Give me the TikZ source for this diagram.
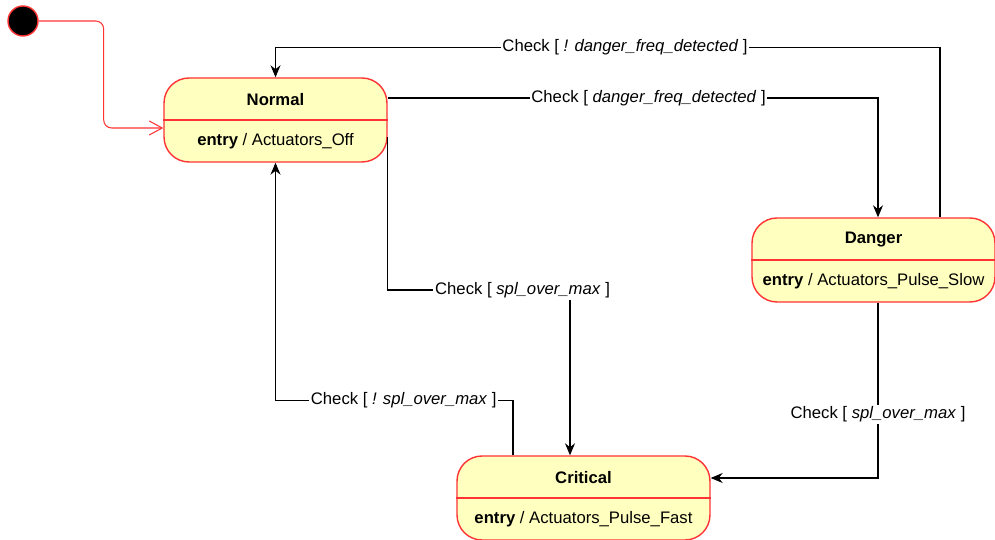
\documentclass[tikz,border=0pt]{standalone}
\usepackage{fontspec}
\setmainfont{Liberation Sans}
\usepackage{tikz}
\usetikzlibrary{arrows.meta, positioning}

\definecolor{statefill}{HTML}{FFFFC0}
\definecolor{stateline}{HTML}{FF3333}

\begin{document}
\begin{tikzpicture}[
    x=0.02cm, y=0.02cm,
    statebox/.style={rectangle, rounded corners=0.5cm, draw=stateline, line width=0.8pt, fill=statefill, minimum height=1.68cm, inner sep=0pt},
    startdot/.style={circle, draw=stateline, line width=0.8pt, fill=black, minimum size=0.6cm, inner sep=0pt},
    title/.style={font=\fontsize{9.5}{11}\selectfont\bfseries, inner sep=1pt},
    entrytxt/.style={font=\fontsize{9.5}{11}\selectfont, inner sep=1pt},
    guard/.style={font=\fontsize{9.5}{11}\selectfont, fill=white, inner sep=1pt},
    divline/.style={draw=stateline, line width=0.8pt},
    trans/.style={draw, line width=0.6pt, -{Stealth[length=2.4mm, width=2mm]}},
    startline/.style={draw=stateline, line width=0.6pt, rounded corners=0.16cm, -{Straight Barb[length=2.6mm, width=2.8mm]}}
]
\useasboundingbox (0,0) rectangle (995,540);

% Start
\node[startdot] (init) at (23,519) {};

% States
\node[statebox, minimum width=4.46cm] (normal) at (275.5,420) {};
\node[statebox, minimum width=4.86cm] (danger) at (873.5,280) {};
\node[statebox, minimum width=5.06cm] (critical) at (583.5,42) {};

\draw[divline] (normal.west) -- (normal.east);
\draw[divline] (danger.west) -- (danger.east);
\draw[divline] (critical.west) -- (critical.east);

\node[title] (normaltitle) at ([yshift=0.4cm]normal.center) {Normal};
\node[entrytxt] (normalentry) at ([yshift=-0.42cm]normal.center) {\textbf{entry} / Actuators\_Off};
\node[title] (dangertitle) at ([yshift=0.4cm]danger.center) {Danger};
\node[entrytxt] (dangerentry) at ([yshift=-0.42cm]danger.center) {\textbf{entry} / Actuators\_Pulse\_Slow};
\node[title] (criticaltitle) at ([yshift=0.4cm]critical.center) {Critical};
\node[entrytxt] (criticalentry) at ([yshift=-0.42cm]critical.center) {\textbf{entry} / Actuators\_Pulse\_Fast};

% Draw lines
\draw[startline] (init.east) -- ++(65,0) |- ([yshift=-0.16cm]normal.west);
\draw[trans] ([xshift=1.33cm]danger.north) -- ++(0,170) -| node[guard, pos=0.237] {Check [ \textit{! danger\_freq\_detected} ]} (normal.north);
\draw[trans] ([yshift=0.44cm]normal.east) -| node[guard, pos=0.266] {Check [ \textit{danger\_freq\_detected} ]} ([xshift=0.09cm]danger.north);
\draw[trans] ([yshift=-0.34cm]normal.east) -- ++(0,-153) -| node[guard, pos=0.37] {Check [ \textit{spl\_over\_max} ]} ([xshift=-0.27cm]critical.north);
\draw[trans] ([xshift=-1.41cm]critical.north) -- ++(0,55) -| node[guard, pos=0.23] {Check [ \textit{! spl\_over\_max} ]} (normal.south);
\draw[trans] ([xshift=0.09cm]danger.south) |- node[guard, pos=0.318] {Check [ \textit{spl\_over\_max} ]} ([yshift=0.4cm]critical.east);
\end{tikzpicture}
\end{document}
